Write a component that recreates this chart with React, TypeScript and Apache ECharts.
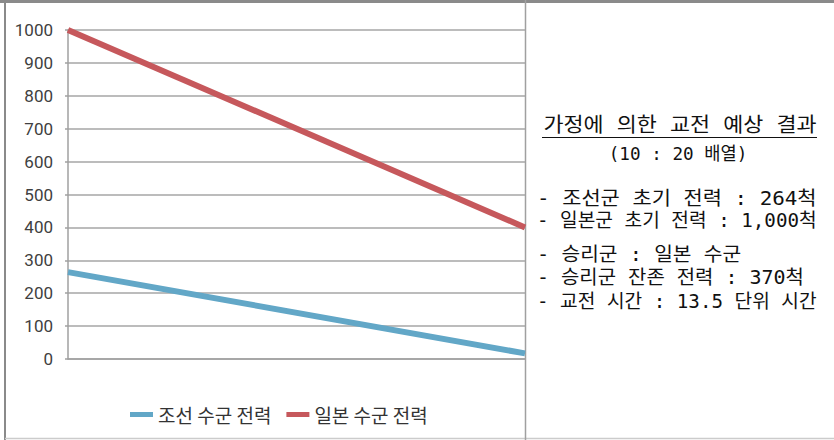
import React, { useEffect, useRef } from "react";
import * as echarts from "echarts";

const seriesNames = ["조선 수군 전력", "일본 수군 전력"];
const timeSteps = [0, 13.5];
const joseonValues = [264, 17];
const japanValues = [1000, 400];
const yTicks = { min: 0, max: 1000, interval: 100 };

const panelTitle = "가정에 의한 교전 예상 결과";
const panelSubtitle = "(10 : 20 배열)";
const panelLines = [
  "- 조선군 초기 전력 : 264척",
  "- 일본군 초기 전력 : 1,000척",
  "- 승리군 : 일본 수군",
  "- 승리군 잔존 전력 : 370척",
  "- 교전 시간 : 13.5 단위 시간",
];

export default function App() {
  const ref = useRef<HTMLDivElement>(null);
  useEffect(() => {
    if (!ref.current) return;
    const chart = echarts.init(ref.current, undefined, { renderer: "svg" });
    const panelFont = "'DejaVu Sans Mono', 'Noto Sans CJK KR', sans-serif";
    const lineY = [198, 221, 255, 278, 302];
    const lineScale = [1.1, 1.01, 1.07, 1.05, 1.01];
    const graphics: any[] = [
      { type: "line", shape: { x1: 0, y1: 1.5, x2: 834, y2: 1.5 }, style: { stroke: "#8a8a8a", lineWidth: 3 } },
      { type: "line", shape: { x1: 5, y1: 0, x2: 5, y2: 440 }, style: { stroke: "#8a8a8a", lineWidth: 2 } },
      { type: "line", shape: { x1: 5, y1: 438.5, x2: 834, y2: 438.5 }, style: { stroke: "#cccccc", lineWidth: 1.5 } },
      { type: "line", shape: { x1: 525.5, y1: 0, x2: 525.5, y2: 440 }, style: { stroke: "#a0a0a0", lineWidth: 1.5 } },
      {
        type: "text",
        x: 680,
        y: 125,
        scaleX: 1.09,
        style: { text: panelTitle, font: `20px ${panelFont}`, fill: "#111", align: "center", verticalAlign: "middle" },
      },
      { type: "line", shape: { x1: 542, y1: 137.5, x2: 817, y2: 137.5 }, style: { stroke: "#111", lineWidth: 1 } },
      {
        type: "text",
        x: 678,
        y: 153,
        scaleX: 0.98,
        style: { text: panelSubtitle, font: `18px ${panelFont}`, fill: "#111", align: "center", verticalAlign: "middle" },
      },
    ];
    panelLines.forEach((t, i) => {
      graphics.push({
        type: "text",
        x: 537,
        y: lineY[i],
        scaleX: lineScale[i],
        style: { text: t, font: `19px ${panelFont}`, fill: "#111", align: "left", verticalAlign: "middle" },
      });
    });

    chart.setOption({
      animation: false,
      backgroundColor: "#ffffff",
      grid: { left: 68, right: 309, top: 30, bottom: 81, containLabel: false },
      legend: {
        left: 125,
        top: 400,
        icon: "rect",
        itemWidth: 23,
        itemHeight: 5,
        itemGap: 15,
        textStyle: { fontSize: 19, color: "#333", fontFamily: "'Noto Sans CJK KR', sans-serif" },
        data: seriesNames,
      },
      xAxis: {
        type: "value",
        min: timeSteps[0],
        max: timeSteps[timeSteps.length - 1],
        axisLabel: { show: false },
        axisTick: { show: false },
        splitLine: { show: false },
        axisLine: { show: true, lineStyle: { color: "#a0a0a0", width: 1.5 } },
      },
      yAxis: {
        type: "value",
        min: yTicks.min,
        max: yTicks.max,
        interval: yTicks.interval,
        axisLine: { show: true, lineStyle: { color: "#a0a0a0", width: 1.5 } },
        axisTick: { show: true, length: 3, lineStyle: { color: "#a0a0a0", width: 1.5 } },
        splitLine: { show: true, lineStyle: { color: "#a6a6a6", width: 1.5 } },
        axisLabel: {
          margin: 15,
          fontSize: 17,
          color: "#404040",
          fontFamily: "Roboto, sans-serif",
          formatter: (v: number) => String(v),
        },
      },
      series: [
        {
          name: seriesNames[0],
          type: "line",
          showSymbol: false,
          color: "#62a7c7",
          lineStyle: { width: 6, color: "#62a7c7" },
          data: timeSteps.map((t, i) => [t, joseonValues[i]]),
        },
        {
          name: seriesNames[1],
          type: "line",
          showSymbol: false,
          color: "#c6585c",
          lineStyle: { width: 6, color: "#c6585c" },
          data: timeSteps.map((t, i) => [t, japanValues[i]]),
        },
      ],
      graphic: graphics,
    });
    return () => chart.dispose();
  }, []);
  return <div ref={ref} style={{ position: "absolute", left: 0, top: 0, width: 834, height: 440 }} />;
}
